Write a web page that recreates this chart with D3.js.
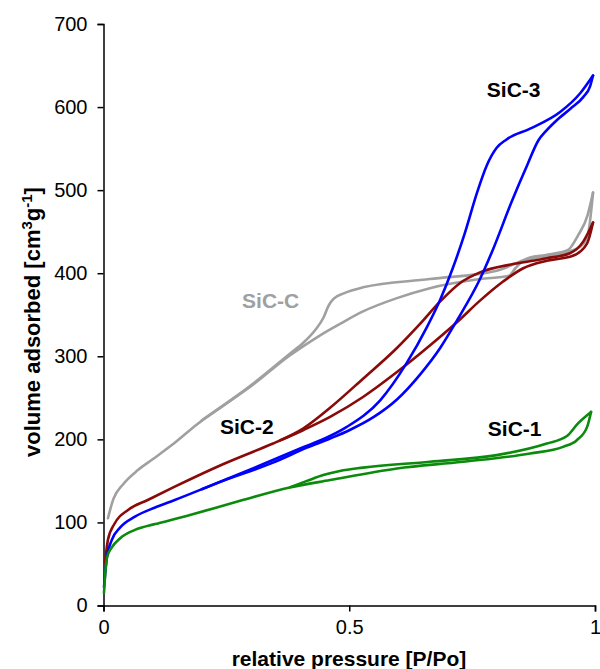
<!DOCTYPE html>
<html>
<head>
<meta charset="utf-8">
<script src="https://cdn.jsdelivr.net/npm/d3@7"></script>
<style>
    body { margin: 0; background: #fff; }
    svg { display: block; font-family: "Liberation Sans", Arial, sans-serif; }
    .axis path, .axis line { stroke: #000; stroke-width: 1.5; }
    .axis text { font-size: 20px; fill: #000; }
    .curve { fill: none; stroke-width: 2.6; stroke-linejoin: round; stroke-linecap: round; }
    .label { font-size: 21px; font-weight: bold; }
</style>
</head>
<body>
<svg id="chart" width="600" height="669"></svg>
<script>
// nitrogen isotherms, [P/Po, volume]
// both branches listed from low to high pressure, they meet at the top point

const sic1Ads = [[0.001, 15], [0.003, 34], [0.007, 58], [0.017, 70], [0.034, 81], [0.064, 91], [0.105, 98],
    [0.145, 104], [0.176, 109], [0.278, 126], [0.379, 142], [0.461, 151], [0.597, 165], [0.731, 173],
    [0.868, 183], [0.935, 191], [0.963, 199], [0.984, 215], [0.992, 233]];
const sic1Des = [[0.38, 142.5], [0.414, 150], [0.447, 157], [0.481, 162], [0.528, 166], [0.664, 173],
    [0.800, 181], [0.902, 195], [0.943, 204], [0.965, 219], [0.992, 233]];

const sic2Ads = [[0.003, 51], [0.009, 79], [0.023, 99], [0.05, 115], [0.09, 127], [0.145, 143], [0.243, 170],
    [0.345, 195], [0.406, 211], [0.461, 227], [0.528, 251], [0.597, 281], [0.664, 313], [0.719, 341],
    [0.766, 367], [0.813, 390], [0.854, 406], [0.902, 415], [0.955, 421], [0.984, 436], [0.996, 461]];
const sic2Des = [[0.36, 199], [0.406, 213], [0.461, 238], [0.528, 273], [0.597, 310], [0.644, 339],
    [0.685, 366], [0.725, 388], [0.766, 401], [0.833, 411], [0.902, 418], [0.949, 424], [0.976, 438],
    [0.996, 461]];

const sic3Ads = [[0.001, 22], [0.007, 58], [0.017, 79], [0.034, 94], [0.064, 107], [0.105, 118], [0.145, 127],
    [0.243, 150], [0.345, 172], [0.414, 190], [0.461, 201], [0.50, 211], [0.55, 227], [0.597, 248],
    [0.644, 278], [0.685, 310], [0.719, 343], [0.766, 393], [0.792, 428], [0.831, 487], [0.862, 530],
    [0.885, 560], [0.900, 571], [0.920, 583], [0.950, 598], [0.976, 612], [0.990, 625], [0.996, 638]];
const sic3Des = [[0.20, 140], [0.30, 164], [0.40, 189], [0.461, 204], [0.495, 215], [0.563, 247],
    [0.617, 292], [0.658, 335], [0.685, 368], [0.710, 405], [0.735, 448], [0.760, 497], [0.780, 530],
    [0.800, 551], [0.820, 561], [0.868, 574], [0.929, 594], [0.969, 616], [0.996, 638]];

const sicCAds = [[0.009, 105], [0.02, 128], [0.04, 146], [0.07, 163], [0.10, 176], [0.141, 194],
    [0.19, 218], [0.257, 246], [0.298, 263], [0.379, 301], [0.406, 312], [0.44, 325], [0.481, 339],
    [0.528, 354], [0.597, 370], [0.664, 382], [0.766, 393], [0.825, 397], [0.838, 406], [0.855, 415],
    [0.935, 424], [0.970, 432], [0.985, 445], [0.996, 497]];
const sicCDes = [[0.20, 223], [0.30, 265], [0.379, 303], [0.406, 316], [0.43, 331], [0.448, 347],
    [0.458, 361], [0.468, 369], [0.49, 376], [0.528, 383], [0.664, 393], [0.800, 403], [0.847, 414],
    [0.868, 419], [0.900, 422], [0.945, 428], [0.965, 445], [0.985, 470], [0.996, 497]];

const sampleNames = ['SiC-C', 'SiC-2', 'SiC-3', 'SiC-1'];
const sampleColors = ['#a0a0a0', '#8a0a0a', '#0000ff', '#0b8a0b'];
const sampleBranches = [[sicCAds, sicCDes], [sic2Ads, sic2Des], [sic3Ads, sic3Des], [sic1Ads, sic1Des]];
// where each name sits, [P/Po, volume] of the text baseline start
const labelSpots = [[0.282, 358], [0.237, 207], [0.780, 612], [0.782, 204]];
const labelColors = ['#a0a0a0', '#000', '#000', '#000'];

const xTicks = [0, 0.5, 1];
const yTicks = [0, 100, 200, 300, 400, 500, 600, 700];

const svg = d3.select('#chart');

const x = d3.scaleLinear().domain([0, 1]).range([103.5, 595]);
const y = d3.scaleLinear().domain([0, 700]).range([605.5, 24]);

svg.append('g')
    .attr('class', 'axis')
    .attr('transform', 'translate(0,605.5)')
    .call(d3.axisBottom(x).tickValues(xTicks).tickFormat(d3.format('')).tickSizeOuter(0).tickSize(6).tickPadding(8));

svg.append('g')
    .attr('class', 'axis')
    .attr('transform', 'translate(103.5,0)')
    .call(d3.axisLeft(y).tickValues(yTicks).tickSizeOuter(0).tickSize(6).tickPadding(10));

const line = d3.line()
    .x(d => x(d[0]))
    .y(d => y(d[1]))
    .curve(d3.curveMonotoneX);

sampleBranches.forEach((branches, i) => {
    branches.forEach(branch => {
        svg.append('path')
            .attr('class', 'curve')
            .attr('stroke', sampleColors[i])
            .attr('d', line(branch));
    });
});

sampleNames.forEach((name, i) => {
    svg.append('text')
        .attr('class', 'label')
        .attr('x', x(labelSpots[i][0]))
        .attr('y', y(labelSpots[i][1]))
        .attr('fill', labelColors[i])
        .text(name);
});

svg.append('text')
    .attr('x', 349)
    .attr('y', 666)
    .attr('text-anchor', 'middle')
    .attr('font-size', 21)
    .attr('font-weight', 'bold')
    .text('relative pressure [P/Po]');

const yLabel = svg.append('text')
    .attr('transform', 'translate(40,322) rotate(-90)')
    .attr('text-anchor', 'middle')
    .attr('font-size', 22)
    .attr('font-weight', 'bold');
yLabel.append('tspan').text('volume adsorbed [cm');
yLabel.append('tspan').attr('font-size', 15).attr('dy', -8).text('3');
yLabel.append('tspan').attr('dy', 8).text('g');
yLabel.append('tspan').attr('font-size', 15).attr('dy', -8).text('-1');
yLabel.append('tspan').attr('dy', 8).text(']');
</script>
</body>
</html>
